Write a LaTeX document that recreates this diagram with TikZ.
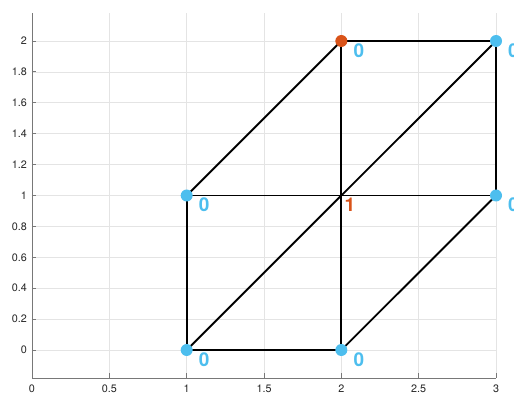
\documentclass[tikz,border=0pt]{standalone}
\usepackage{fontspec}
\usetikzlibrary{calc}
\setmainfont{TeX Gyre Heros}
\definecolor{mblue}{RGB}{77,190,238}
\definecolor{morange}{RGB}{217,83,25}
\definecolor{gridgray}{RGB}{228,228,228}
\definecolor{axgray}{RGB}{120,120,120}
\definecolor{ticktext}{RGB}{38,38,38}
\tikzset{
  gridline/.style={draw=gridgray, line width=0.7pt},
  axisline/.style={draw=axgray, line width=0.9pt},
  tickmark/.style={draw=axgray, line width=0.9pt},
  ticklab/.style={text=ticktext, font=\fontsize{10.8}{12}\selectfont, inner sep=0pt},
  edge/.style={draw=black, line width=1.9pt},
  bdot/.style={circle, fill=mblue, inner sep=0pt, minimum size=12pt},
  odot/.style={circle, fill=morange, inner sep=0pt, minimum size=12pt},
  blab/.style={text=mblue, font=\fontsize{19}{19}\selectfont\bfseries, inner sep=0pt},
  olab/.style={text=morange, font=\fontsize{19}{19}\selectfont\bfseries, inner sep=0pt}
}
\begin{document}
\begin{tikzpicture}[x=154.67pt,y=154.5pt]
\useasboundingbox (-32pt,-44pt) rectangle (482pt,350pt);
\clip (-32pt,-44pt) rectangle (482pt,350pt);
% grid
\foreach \gx in {0.5,1,1.5,2,2.5,3} \draw[gridline] (\gx,-0.181) -- (\gx,2.181);
\foreach \gy in {0,0.2,0.4,0.6,0.8,1,1.2,1.4,1.6,1.8,2} \draw[gridline] (0,\gy) -- (3,\gy);
% axes
\draw[axisline] (0,2.181) -- (0,-0.181) -- (3,-0.181);
\foreach \gx in {0,0.5,1,1.5,2,2.5,3} {
  \draw[tickmark] (\gx,-0.181) -- ++(0,4.5pt);
}
\foreach \gy in {0,0.2,0.4,0.6,0.8,1,1.2,1.4,1.6,1.8,2} {
  \draw[tickmark] (0,\gy) -- ++(4.5pt,0);
}
\node[ticklab] (xl0) at (0,-0.181) [yshift=-11pt] {0};
\node[ticklab] (xl1) at (0.5,-0.181) [yshift=-11pt] {0.5};
\node[ticklab] (xl2) at (1,-0.181) [yshift=-11pt] {1};
\node[ticklab] (xl3) at (1.5,-0.181) [yshift=-11pt] {1.5};
\node[ticklab] (xl4) at (2,-0.181) [yshift=-11pt] {2};
\node[ticklab] (xl5) at (2.5,-0.181) [yshift=-11pt] {2.5};
\node[ticklab] (xl6) at (3,-0.181) [yshift=-11pt] {3};
\foreach \gy/\lab [count=\i] in {0/0,0.2/0.2,0.4/0.4,0.6/0.6,0.8/0.8,1/1,1.2/1.2,1.4/1.4,1.6/1.6,1.8/1.8,2/2} {
  \node[ticklab, anchor=east] (yl\i) at (0,\gy) [xshift=-5pt] {\lab};
}
% vertices
\coordinate (p10) at (1,0);
\coordinate (p20) at (2,0);
\coordinate (p11) at (1,1);
\coordinate (p21) at (2,1);
\coordinate (p31) at (3,1);
\coordinate (p22) at (2,2);
\coordinate (p32) at (3,2);
% edges
\draw[edge] (p10) -- (p20);
\draw[edge] (p11) -- (p21);
\draw[edge] (p21) -- (p31);
\draw[edge] (p22) -- (p32);
\draw[edge] (p10) -- (p11);
\draw[edge] (p20) -- (p21);
\draw[edge] (p21) -- (p22);
\draw[edge] (p31) -- (p32);
\draw[edge] (p10) -- (p21);
\draw[edge] (p21) -- (p32);
\draw[edge] (p11) -- (p22);
\draw[edge] (p20) -- (p31);
% dots
\node[bdot] (d10) at (p10) {};
\node[bdot] (d20) at (p20) {};
\node[bdot] (d11) at (p11) {};
\node[bdot] (d31) at (p31) {};
\node[bdot] (d32) at (p32) {};
\node[odot] (d22) at (p22) {};
% labels
\node[blab] (l10) at ($(p10)+(17.5pt,-9.5pt)$) {0};
\node[blab] (l20) at ($(p20)+(17.5pt,-9.5pt)$) {0};
\node[blab] (l11) at ($(p11)+(17.5pt,-9.5pt)$) {0};
\node[blab] (l31) at ($(p31)+(17.5pt,-9.5pt)$) {0};
\node[blab] (l32) at ($(p32)+(17.5pt,-9.5pt)$) {0};
\node[blab] (l22) at ($(p22)+(17.5pt,-9.5pt)$) {0};
\node[olab] (l21) at ($(p21)+(8.5pt,-9.5pt)$) {1};
\end{tikzpicture}
\end{document}
